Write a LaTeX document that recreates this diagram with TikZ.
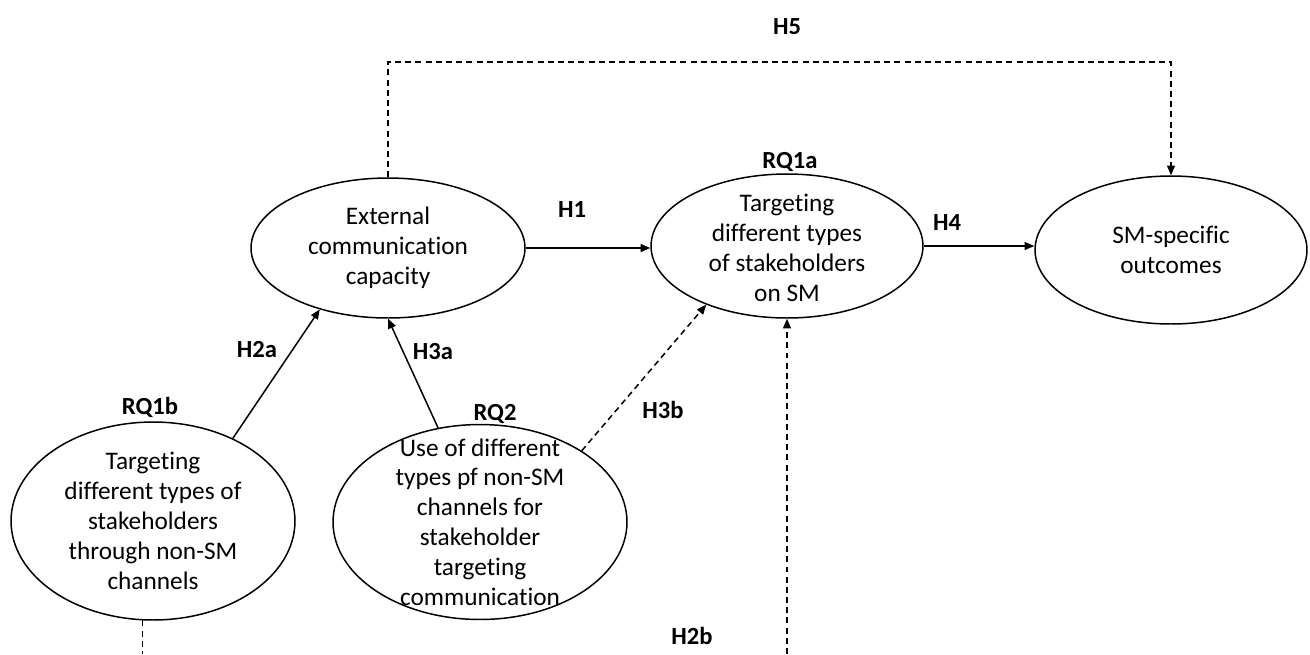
\documentclass[tikz,border=0pt]{standalone}
\usepackage{fontspec}
\setmainfont{Carlito}[Ligatures=NoCommon]
\usetikzlibrary{arrows.meta,shapes.geometric}
\tikzset{
  bubble/.style={draw,ellipse,line width=0.85pt,inner sep=0pt},
  words/.style={align=center,font=\fontsize{14.4}{17}\selectfont,inner sep=0pt},
  tag/.style={font=\fontsize{14}{16}\selectfont\bfseries,inner sep=0pt},
  link/.style={line width=0.85pt,-{Triangle[length=5.5pt,width=4.5pt]}},
  maybe/.style={link,dash pattern=on 3.4pt off 2.4pt},
  maybeline/.style={line width=0.85pt,dash pattern=on 3.4pt off 2.4pt}
}
\begin{document}
\begin{tikzpicture}[x=0.02cm,y=-0.02cm]
\useasboundingbox (0,0) rectangle (1310,654);

% Ellipse external communication capacity
\node [bubble,minimum width=5.48cm,minimum height=2.8cm] (ecc) at (388,248) {};
\node [words] (ecctext) at (ecc.center) {External\\communication\\capacity};

% Ellipse RQ1a
\node [bubble,minimum width=5.44cm,minimum height=2.88cm] (rq1a) at (787,246) {};
\node [words] (rq1atext) at ([yshift=-0.04cm]rq1a.center) {Targeting\\different types\\of stakeholders\\on SM};
\node [tag] (rq1alabel) at (790,162) {RQ1a};

% Ellipse SM-specific outcomes
\node [bubble,minimum width=5.44cm,minimum height=2.96cm] (sm) at (1171,250) {};
\node [words] (smtext) at (sm.center) {SM-specific\\outcomes};

% Ellipse RQ1b
\node [bubble,minimum width=5.68cm,minimum height=3.96cm] (rq1b) at (153,521) {};
\node [words] (rq1btext) at (rq1b.center) {Targeting\\different types of\\stakeholders\\through non-SM\\channels};
\node [tag] (rq1blabel) at (150,407) {RQ1b};

% Ellipse RQ2
\node [bubble,minimum width=5.88cm,minimum height=3.9cm] (rq2) at (480,522) {};
\node [words] (rq2text) at (rq2.center) {Use of different\\types pf non-SM\\channels for\\stakeholder\\targeting\\communication};
\node [tag] (rq2label) at (495,414) {RQ2};

% Loose ends of the dashed lines
\coordinate (h5top) at (780,62);
\coordinate (rq1bfoot) at (142,654);
\coordinate (h2bfoot) at (787,654);

% Drawing hypotheses
\draw [link] (ecc.east) -- (ecc.east -| rq1a.west);
\draw [link] (rq1a.east) -- (rq1a.east -| sm.west);
\draw [link] (rq1b.46) -- (ecc.222);
\draw [link] (rq2.114) -- (ecc.270);
\draw [maybe] (rq2.35) -- (rq1a.216);
\draw [maybe] (ecc.north) |- (h5top) -| (sm.north);
\draw [maybe] (h2bfoot) -- (rq1a.south);
\draw [maybeline] (rq1b.264) -- (rq1b.264 |- rq1bfoot);

% Marking hypothesis labels
\node [tag] (h5) at (787,27) {H5};
\node [tag] (h1) at (572,210) {H1};
\node [tag] (h4) at (947,223) {H4};
\node [tag] (h2a) at (257,350) {H2a};
\node [tag] (h3a) at (433,352) {H3a};
\node [tag] (h3b) at (663,410) {H3b};
\node [tag] (h2b) at (692,636) {H2b};
\end{tikzpicture}
\end{document}
